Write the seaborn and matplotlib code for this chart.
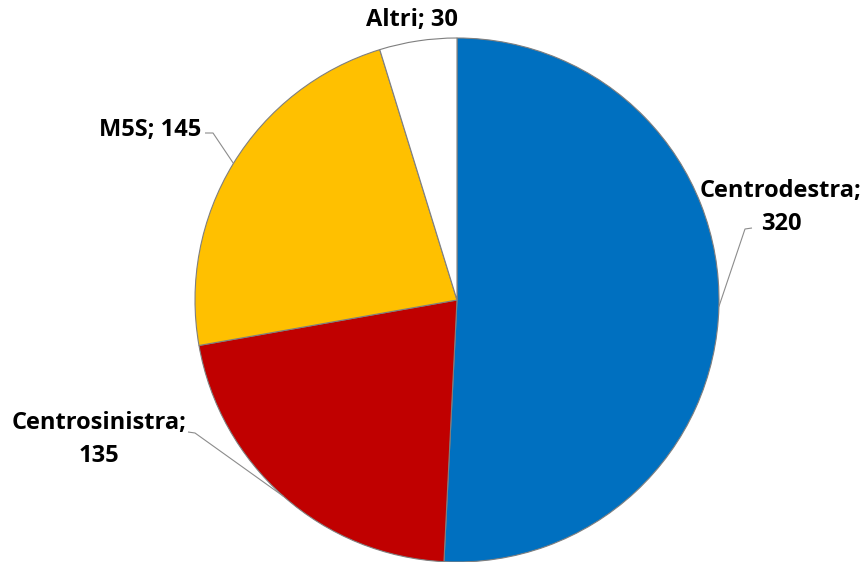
import matplotlib
matplotlib.use('Agg')
import matplotlib.pyplot as plt
import numpy as np
import seaborn as sns

parties = ['Centrodestra', 'Centrosinistra', 'M5S', 'Altri']
seats = [320, 135, 145, 30]
colors = ['#0070C0', '#C00000', '#FFC000', '#FFFFFF']

sns.set_theme(style='white')
plt.rcParams['font.family'] = ['Open Sans', 'DejaVu Sans']

fig = plt.figure(figsize=(8.66, 5.62), dpi=100)
ax = fig.add_axes([0, 0, 1, 1])

cx, cy, r = 457, 262, 262
wedges, _ = ax.pie(seats, colors=colors, startangle=90, counterclock=False,
                   center=(cx, cy), radius=r, frame=True,
                   wedgeprops=dict(edgecolor='#7f7f7f', linewidth=0.8))
ax.set_xlim(0, 866)
ax.set_ylim(0, 562)
ax.set_aspect('equal')
ax.axis('off')

# label text, anchor and leader kink points, in pixel coords (y up)
label_text = {
    'Centrodestra': 'Centrodestra;\n320',
    'Centrosinistra': 'Centrosinistra;\n135',
    'M5S': 'M5S; 145',
    'Altri': 'Altri; 30',
}
label_pos = {
    'Centrodestra': (781, 355),
    'Centrosinistra': (99, 122),
    'M5S': (150, 432),
    'Altri': (412, 542),
}
kinks = {
    'Centrodestra': [(752, 334), (745, 333)],
    'Centrosinistra': [(188, 130), (195, 129)],
    'M5S': [(205, 429), (213, 429)],
}

for w, name in zip(wedges, parties):
    mid = np.deg2rad((w.theta1 + w.theta2) / 2)
    ex, ey = cx + r * np.cos(mid), cy + r * np.sin(mid)
    if name in kinks:
        pts = kinks[name] + [(ex, ey)]
        ax.plot([p[0] for p in pts], [p[1] for p in pts], color='#8c8c8c',
                lw=0.8, solid_capstyle='butt')
    x, y = label_pos[name]
    ax.text(x, y, label_text[name], ha='center', va='center', fontsize=17,
            fontweight='bold', color='black', linespacing=1.5)

fig.savefig('out.png', dpi=100)
